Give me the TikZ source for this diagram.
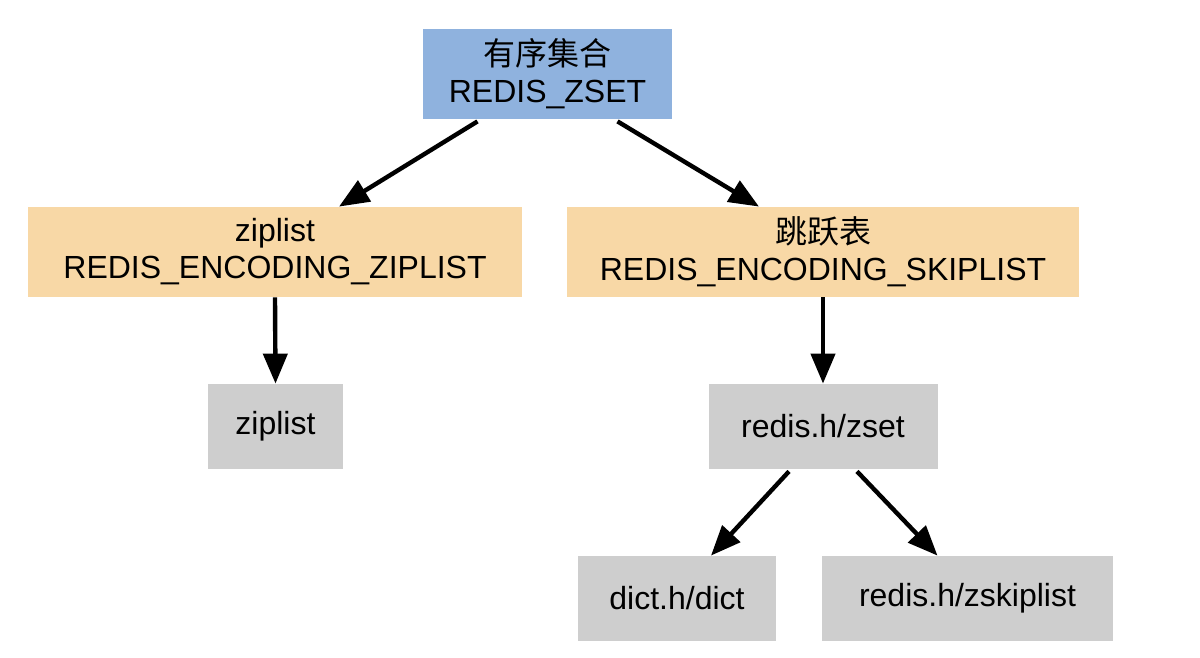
\documentclass[tikz,border=0pt]{standalone}
\usepackage{fontspec}
\setmainfont{Liberation Sans}
\newfontfamily\cjk{Noto Sans CJK SC}
\usetikzlibrary{arrows.meta, positioning, calc}
\definecolor{zsetblue}{RGB}{143,178,222}
\definecolor{encorange}{RGB}{248,216,166}
\definecolor{structgray}{RGB}{206,206,206}

\begin{document}
\begin{tikzpicture}[
    x=0.5pt, y=-0.5pt,
    box/.style={inner sep=0pt, align=center, font=\fontsize{16}{18.5}\selectfont},
    obj/.style={box, fill=zsetblue, minimum height=45pt},
    enc/.style={box, fill=encorange, minimum height=45pt},
    impl/.style={box, fill=structgray, minimum height=42.5pt},
    arrow/.style={-{Triangle[length=15pt, width=12pt]}, line width=2.2pt}
  ]
  \useasboundingbox (0,0) rectangle (1200,658);

  % Object type
  \node[obj, minimum width=124.5pt] (zset) at (547.5,74) {{\cjk 有序集合}\\REDIS\_ZSET};

  % Encodings
  \node[enc, minimum width=247pt] (zipenc) at (275,252) {ziplist\\REDIS\_ENCODING\_ZIPLIST};
  \node[enc, minimum width=256pt] (skipenc) at (823,252) {{\cjk 跳跃表}\\REDIS\_ENCODING\_SKIPLIST};

  % Underlying structures
  \node[impl, minimum width=67.5pt] (ziplist) at (275.5,426.5) {ziplist};
  \node[impl, minimum width=114.5pt] (zsetstruct) at (823,426.5) {redis.h/zset};
  \node[impl, minimum width=99pt] (dict) at (677,598.5) {dict.h/dict};
  \node[impl, minimum width=145.5pt] (zskiplist) at (967.5,598.5) {redis.h/zskiplist};

  % Arrows
  \draw[arrow] ([xshift=-35pt, yshift=-1pt]zset.south) -- ([xshift=32pt]zipenc.north);
  \draw[arrow] ([xshift=35pt, yshift=-1pt]zset.south) -- ([xshift=-32pt]skipenc.north);
  \draw[arrow] (zipenc.south) -- (ziplist.north);
  \draw[arrow] (skipenc.south) -- (zsetstruct.north);
  \draw[arrow] ([xshift=-17pt, yshift=-1pt]zsetstruct.south) -- ([xshift=17pt]dict.north);
  \draw[arrow] ([xshift=17pt, yshift=-1pt]zsetstruct.south) -- ([xshift=-15pt]zskiplist.north);

\end{tikzpicture}
\end{document}
